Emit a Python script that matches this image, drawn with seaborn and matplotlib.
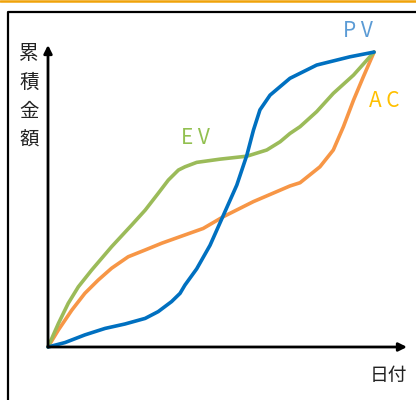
import matplotlib
matplotlib.use("Agg")
import matplotlib.pyplot as plt
import seaborn as sns
import pandas as pd
from matplotlib.lines import Line2D

sns.set_style("white")
plt.rcParams['font.family'] = ['Noto Sans CJK JP', 'DejaVu Sans']

# Data (x: time %, y: cumulative cost %)
pv_x = [0, 5.2, 11.3, 17.5, 23.6, 29.8, 33.8, 37.9, 40.5, 42.0, 45.6, 49.7, 53.8, 57.9, 61.0, 63.0, 65.0, 68.1, 74.2, 82.4, 92.6, 100]
pv_y = [0, 1.5, 4.1, 6.3, 7.8, 9.7, 12.0, 15.4, 18.2, 21.0, 26.5, 34.5, 44.7, 54.9, 65.1, 73.5, 80.4, 85.4, 91.1, 95.6, 98.4, 100]

ev_x = [0, 3.2, 6.2, 9.3, 13.4, 19.5, 25.7, 29.8, 33.8, 36.9, 40.0, 42.0, 45.6, 52.8, 61.0, 67.1, 71.2, 74.2, 77.3, 82.4, 87.5, 93.7, 100]
ev_y = [0, 8.0, 14.8, 20.4, 26.1, 34.0, 41.4, 46.4, 52.1, 56.6, 60.0, 61.1, 62.6, 63.7, 64.7, 66.8, 69.6, 72.4, 74.7, 79.8, 86.0, 92.2, 100]

ac_x = [0, 3.2, 7.3, 11.3, 15.4, 19.5, 24.6, 29.8, 34.9, 42.0, 47.6, 53.8, 63.0, 74.2, 77.3, 83.4, 87.5, 90.6, 93.7, 96.7, 100]
ac_y = [0, 5.8, 12.5, 18.2, 22.7, 26.7, 30.6, 32.9, 35.2, 38.0, 40.2, 44.2, 49.3, 54.6, 55.7, 61.1, 66.8, 74.7, 83.7, 91.6, 100]

series_names = ["PV", "EV", "AC"]
line_colors = {"PV": "#0070C0", "EV": "#9BBB59", "AC": "#F79646"}
label_colors = {"PV": "#5B9BD5", "EV": "#92C050", "AC": "#FFC000"}
y_label = "累積金額"
x_label = "日付"

df = pd.concat([
    pd.DataFrame({"x": pv_x, "y": pv_y, "s": "PV"}),
    pd.DataFrame({"x": ev_x, "y": ev_y, "s": "EV"}),
    pd.DataFrame({"x": ac_x, "y": ac_y, "s": "AC"}),
], ignore_index=True)

W, H = 416, 400
fig = plt.figure(figsize=(W / 100, H / 100), dpi=100)

# page decorations: orange top rule and black frame
fig.add_artist(Line2D([0, 1], [1 - 0.8 / H, 1 - 0.8 / H], color="#F0A30A", lw=1.8, transform=fig.transFigure))
fig.add_artist(Line2D([8 / W, 8 / W, 1.0], [0, 1 - 12 / H, 1 - 12 / H], color="black", lw=1.6, transform=fig.transFigure))

ax = fig.add_axes([48 / W, 1 - 347 / H, (407 - 48) / W, (347 - 45) / H])
ax.set_xlim(0, 110.1)
ax.set_ylim(0, 102.4)
for sp in ax.spines.values():
    sp.set_visible(False)
ax.set_xticks([])
ax.set_yticks([])
ax.patch.set_alpha(0)

# axes arrows
ax.annotate("", xy=(1, 0), xytext=(0, 0), xycoords="axes fraction",
            arrowprops=dict(arrowstyle="-|>", color="black", lw=2.0, mutation_scale=12, shrinkA=0, shrinkB=0))
ax.annotate("", xy=(0, 1), xytext=(0, 0), xycoords="axes fraction",
            arrowprops=dict(arrowstyle="-|>", color="black", lw=2.0, mutation_scale=12, shrinkA=0, shrinkB=0))

order = ["AC", "EV", "PV"]
for name in order:
    sub = df[df.s == name]
    sns.lineplot(data=sub, x="x", y="y", ax=ax, color=line_colors[name], lw=2.6,
                 sort=False, estimator=None, legend=False, clip_on=False,
                 solid_joinstyle="round", solid_capstyle="round")
ax.set_xlabel("")
ax.set_ylabel("")

ax.text(95.1, 107.0, "P V", color=label_colors["PV"], fontsize=15, ha="center", va="center", clip_on=False)
ax.text(45.3, 71.0, "E V", color=label_colors["EV"], fontsize=15, ha="center", va="center")
ax.text(103.0, 83.5, "A C", color=label_colors["AC"], fontsize=15, ha="center", va="center", clip_on=False)

fig.text(29 / W, 1 - 97 / H, "\n".join(y_label), fontsize=14, ha="center", va="center", linespacing=1.5, color="#222222")
fig.text(388 / W, 1 - 376 / H, x_label, fontsize=13.5, ha="center", va="center", color="#222222")

fig.savefig("out.png", dpi=100)
